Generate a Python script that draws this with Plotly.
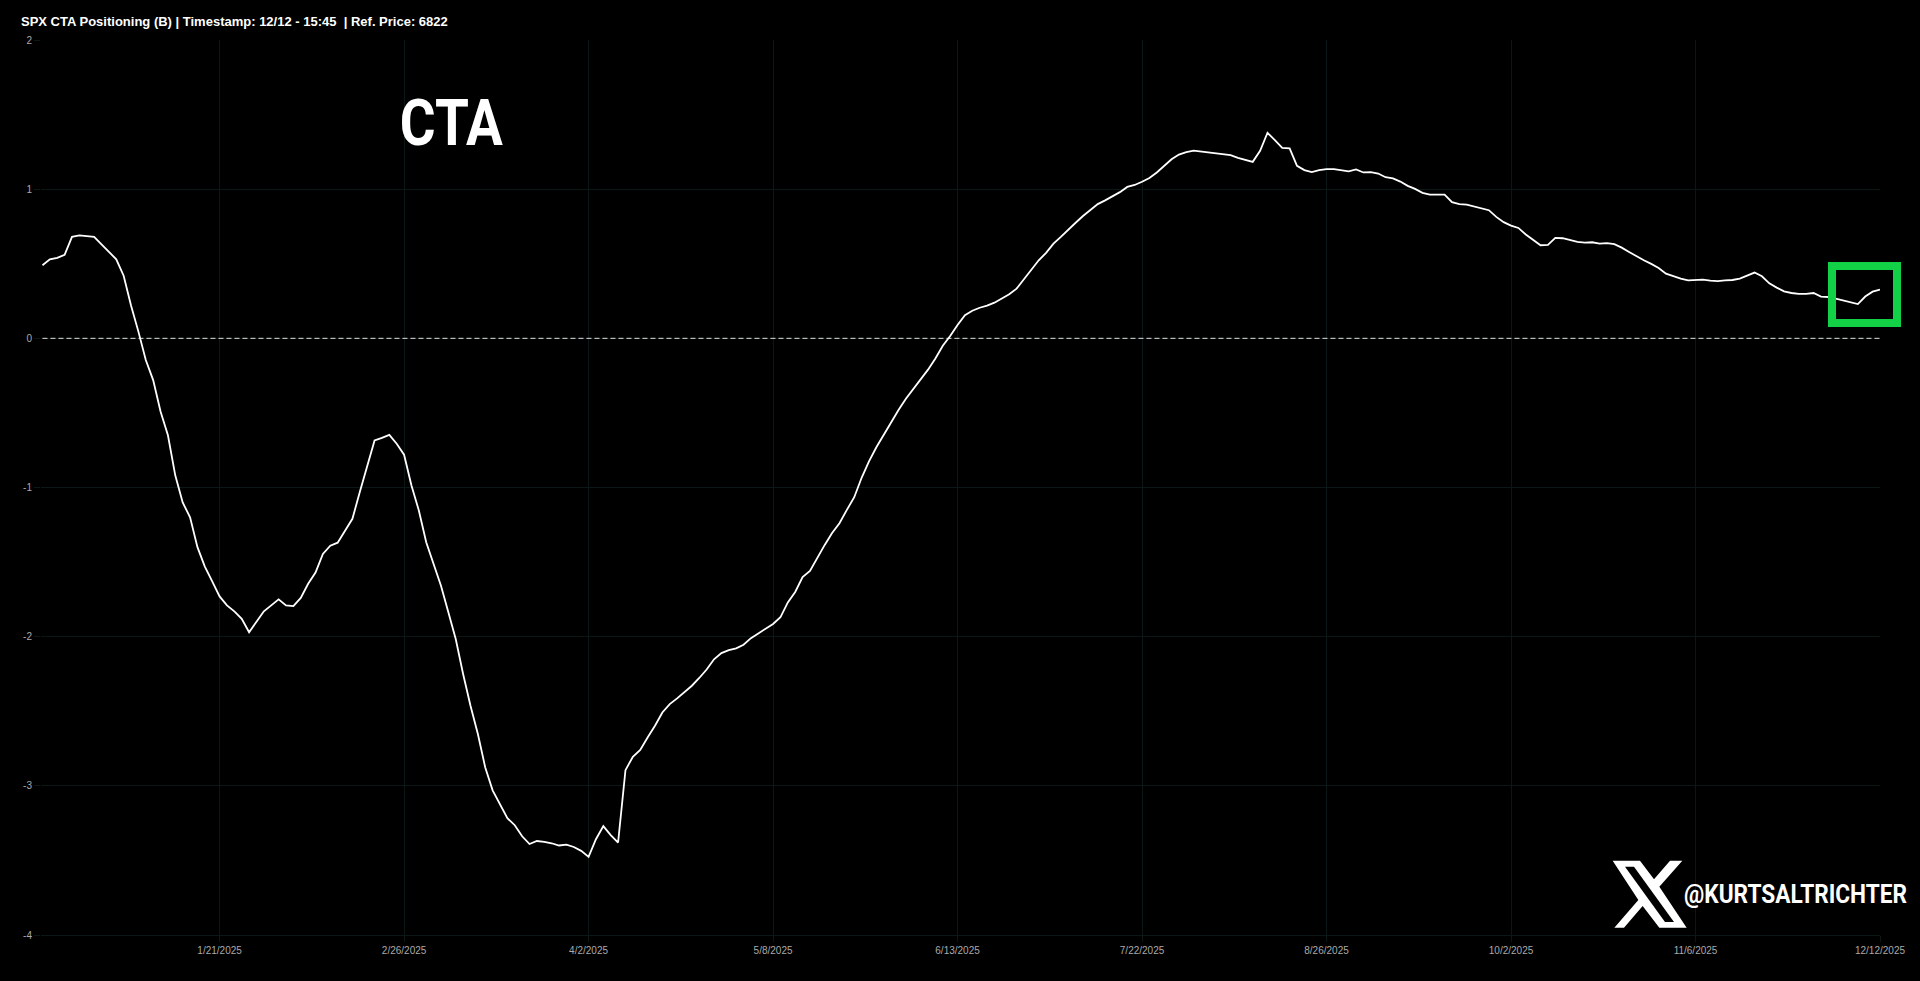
import pandas as pd
import plotly.graph_objects as go

holidays = ["2024-12-25", "2025-01-01", "2025-01-09", "2025-01-20", "2025-02-17", "2025-04-18",
            "2025-05-26", "2025-06-19", "2025-07-04", "2025-09-01", "2025-11-27"]
missing_sessions = ["2025-09-19"]
skipped = holidays + missing_sessions
trading_days = [d for d in pd.bdate_range("2024-12-12", "2025-12-12") if d.strftime("%Y-%m-%d") not in skipped]
dates = [f"{d.month}/{d.day}/{d.year}" for d in trading_days]

tick_labels = ["1/21/2025", "2/26/2025", "4/2/2025", "5/8/2025", "6/13/2025",
               "7/22/2025", "8/26/2025", "10/2/2025", "11/6/2025", "12/12/2025"]
y_ticks = [2, 1, 0, -1, -2, -3, -4]
y_tick_labels = ["2", "1", "0", "-1", "-2", "-3", "-4"]

cta_positioning = [
    0.49, 0.53, 0.54, 0.56, 0.68, 0.69, 0.685, 0.68, 0.63, 0.58,
    0.53, 0.42, 0.22, 0.045, -0.145, -0.28, -0.49, -0.65, -0.92, -1.10,
    -1.20, -1.40, -1.53, -1.63, -1.73, -1.79, -1.83, -1.88, -1.97, -1.90,
    -1.83, -1.79, -1.75, -1.79, -1.795, -1.74, -1.645, -1.57, -1.445, -1.39,
    -1.37, -1.29, -1.21, -1.03, -0.85, -0.685, -0.667, -0.647, -0.707, -0.78,
    -0.987, -1.154, -1.367, -1.512, -1.658, -1.837, -2.016, -2.25, -2.463, -2.653,
    -2.877, -3.03, -3.123, -3.217, -3.264, -3.338, -3.39, -3.37, -3.376, -3.385,
    -3.40, -3.394, -3.41, -3.436, -3.476, -3.358, -3.27, -3.33, -3.38, -2.895,
    -2.805, -2.76, -2.676, -2.597, -2.508, -2.452, -2.414, -2.374, -2.329, -2.277,
    -2.22, -2.152, -2.11, -2.09, -2.078, -2.054, -2.01, -1.978, -1.944, -1.915,
    -1.87, -1.77, -1.70, -1.60, -1.56, -1.47, -1.385, -1.305, -1.24, -1.15,
    -1.065, -0.935, -0.825, -0.73, -0.645, -0.565, -0.48, -0.405, -0.34, -0.27,
    -0.21, -0.135, -0.05, 0.015, 0.09, 0.155, 0.185, 0.205, 0.219, 0.239,
    0.266, 0.295, 0.333, 0.394, 0.456, 0.523, 0.573, 0.635, 0.68, 0.73,
    0.775, 0.82, 0.86, 0.90, 0.925, 0.952, 0.98, 1.015, 1.028, 1.05,
    1.075, 1.112, 1.155, 1.20, 1.232, 1.248, 1.258, 1.252, 1.247, 1.241,
    1.234, 1.228, 1.21, 1.195, 1.183, 1.257, 1.378, 1.329, 1.277, 1.273,
    1.157, 1.128, 1.114, 1.128, 1.134, 1.134, 1.125, 1.119, 1.132, 1.112,
    1.114, 1.105, 1.08, 1.072, 1.051, 1.022, 1.002, 0.975, 0.964, 0.962,
    0.964, 0.913, 0.90, 0.897, 0.884, 0.872, 0.859, 0.814, 0.779, 0.756,
    0.74, 0.696, 0.658, 0.624, 0.626, 0.673, 0.671, 0.66, 0.647, 0.642,
    0.644, 0.635, 0.638, 0.631, 0.608, 0.579, 0.55, 0.523, 0.499, 0.472,
    0.434, 0.416, 0.40, 0.389, 0.391, 0.394, 0.387, 0.384, 0.389, 0.391,
    0.40, 0.423, 0.441, 0.416, 0.369, 0.34, 0.315, 0.304, 0.298, 0.298,
    0.304, 0.28, 0.277, 0.266, 0.255, 0.239, 0.23, 0.28, 0.313, 0.327,
]
zero_line = [0] * len(dates)

title_text = "SPX CTA Positioning (B) | Timestamp: 12/12 - 15:45  | Ref. Price: 6822"

L, R, T, B = 41, 1880, 40, 935
def px(x):
    return (x - L) / (R - L)
def py(y):
    return (B - y) / (B - T)

def logo_path(points):
    return "M " + " L ".join(f"{px(1500 + x / 3):.5f},{py(820 + y / 3):.5f}" for x, y in points) + " Z"

logo_outer = [(338, 122), (420, 122), (462, 178), (510, 122), (547, 122), (478, 200), (560, 323),
              (478, 323), (428, 258), (372, 323), (343, 323), (415, 240)]
logo_inner = [(375, 140), (402, 140), (522, 306), (495, 306)]

fig = go.Figure()
fig.add_trace(go.Scatter(x=dates, y=zero_line, mode="lines", hoverinfo="skip",
                         line=dict(color="#e0e0e0", width=1, dash="5px,3px")))
fig.add_trace(go.Scatter(x=dates, y=cta_positioning, mode="lines",
                         line=dict(color="#ffffff", width=1.8)))

fig.update_layout(
    width=1920, height=981, autosize=False, showlegend=False,
    paper_bgcolor="#000000", plot_bgcolor="#000000",
    margin=dict(l=L, r=1920 - R, t=T, b=981 - B, pad=0),
    font=dict(family="Liberation Sans, Arial, sans-serif", size=10, color="#aaaaaa"),
    title=dict(text=title_text, x=21 / 1920, xref="container", xanchor="left",
               y=1 - 21 / 981, yref="container", yanchor="middle",
               font=dict(family="Liberation Sans, Arial, sans-serif", size=13, color="#ffffff", weight="bold")),
    xaxis=dict(type="category", categoryorder="array", categoryarray=dates, range=[-0.2, 249],
               tickmode="array", tickvals=tick_labels, ticktext=tick_labels,
               showgrid=True, gridcolor="#0b1717", gridwidth=1, zeroline=False, showline=True,
               linecolor="#0b1717", linewidth=1, ticks="outside", ticklen=6, tickcolor="#0b1717",
               tickfont=dict(size=10, color="#aaaaaa"), tickangle=0),
    yaxis=dict(range=[-4, 2], tickmode="array", tickvals=y_ticks, ticktext=y_tick_labels,
               showgrid=True, gridcolor="#0b1717", gridwidth=1, zeroline=False, showline=False,
               ticks="outside", ticklen=6, tickcolor="#0b1717",
               tickfont=dict(size=10, color="#aaaaaa")),
    annotations=[
        dict(text="<b>CTA</b>", xref="paper", yref="paper", x=px(451.5), y=py(123), xanchor="center", yanchor="middle",
             width=103, showarrow=False, font=dict(family="Roboto", size=65, color="#ffffff")),
        dict(text="<b>@KURTSALTRICHTER</b>", xref="paper", yref="paper", x=px(1795.5), y=py(894), xanchor="center",
             width=223, yanchor="middle", showarrow=False,
             font=dict(family="Roboto", size=25, color="#ffffff")),
    ],
    shapes=[
        dict(type="rect", xref="paper", yref="paper", x0=px(1832), x1=px(1897), y0=py(323), y1=py(266),
             line=dict(color="#12d147", width=8), fillcolor="rgba(0,0,0,0)", layer="above"),
        dict(type="path", xref="paper", yref="paper", path=logo_path(logo_outer),
             fillcolor="#ffffff", line=dict(width=0), layer="above"),
        dict(type="path", xref="paper", yref="paper", path=logo_path(logo_inner),
             fillcolor="#000000", line=dict(width=0), layer="above"),
    ],
)

post = """
document.body.style.margin='0';document.body.style.overflow='hidden';
var fits={'CTA':103,'@KURTSALTRICHTER':223};
document.querySelectorAll('.annotation-text').forEach(function(t){
  var w=fits[t.textContent];
  if(w){t.setAttribute('textLength',w);t.setAttribute('lengthAdjust','spacingAndGlyphs');}
});
"""
fig.write_html("out.html", post_script=post, config={"displayModeBar": False})
